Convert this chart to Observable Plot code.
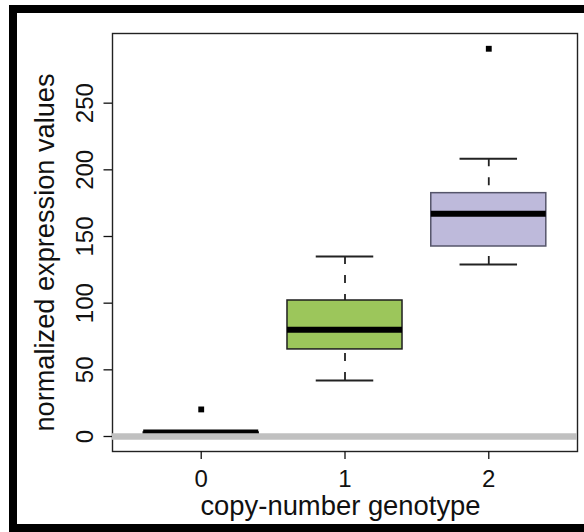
<!DOCTYPE html>
<html>
<head>
<meta charset="utf-8">
<script src="https://cdn.jsdelivr.net/npm/d3@7"></script>
<script src="https://cdn.jsdelivr.net/npm/@observablehq/plot@0.6"></script>
<style>
  body { margin: 0; background: #fff; }
  #wrap { position: relative; width: 584px; height: 532px; overflow: hidden; background: #fff; }
  #border { position: absolute; left: 9px; top: 5px; width: 600px; height: 527px; box-sizing: border-box; border: 8px solid #000; pointer-events: none; }
</style>
</head>
<body>
<div id="wrap"><div id="chart"></div><div id="border"></div></div>
<script>
// ---- data ----
const genotypes = [0, 1, 2];
const lowerWhisker = [0, 42, 129];
const q1 = [0, 65.3, 142.5];
const medians = [3, 80, 167];
const q3 = [3, 102, 182.5];
const upperWhisker = [4, 135, 208.3];
const outlierGenotype = [0, 2];
const outlierValue = [20.3, 290.8];
const yTicks = [0, 50, 100, 150, 200, 250];
const xTicks = [0, 1, 2];
const yLabel = "normalized expression values";
const xLabel = "copy-number genotype";
// palette (one per genotype)
const boxFill = ["#ffffff", "#9cc65b", "#bebadb"];
const boxStroke = ["#222222", "#1e1e1e", "#55556a"];

const boxes = genotypes.map((g, i) => ({
  g, lo: lowerWhisker[i], q1: q1[i], med: medians[i], q3: q3[i], hi: upperWhisker[i],
  fill: boxFill[i], stroke: boxStroke[i]
}));
const outliers = outlierGenotype.map((g, i) => ({g, v: outlierValue[i]}));

const chart = Plot.plot({
  width: 584,
  height: 532,
  marginLeft: 112,
  marginRight: 7,
  marginTop: 33,
  marginBottom: 81,
  style: {fontFamily: "'Liberation Sans', Arial, Helvetica, sans-serif", color: "#111", background: "#fff"},
  x: {domain: [-0.617, 2.617]},
  y: {domain: [-11.25, 302.25]},
  color: {type: "identity"},
  marks: [
    Plot.frame({stroke: "#222", strokeWidth: 1.4}),
    Plot.ruleX(boxes, {x: "g", y1: "hi", y2: "q3", stroke: "#222", strokeWidth: 1.8, strokeDasharray: "8,11"}),
    Plot.ruleX(boxes, {x: "g", y1: "lo", y2: "q1", stroke: "#222", strokeWidth: 1.8, strokeDasharray: "8,11"}),
    Plot.ruleY(boxes, {y: "hi", x1: d => d.g - 0.2, x2: d => d.g + 0.2, stroke: "#222", strokeWidth: 1.8}),
    Plot.ruleY(boxes, {y: "lo", x1: d => d.g - 0.2, x2: d => d.g + 0.2, stroke: "#222", strokeWidth: 1.8}),
    Plot.rect(boxes, {x1: d => d.g - 0.4, x2: d => d.g + 0.4, y1: "q1", y2: "q3", fill: "fill", stroke: "stroke", strokeWidth: 1.5}),
    Plot.ruleY(boxes, {y: "med", x1: d => d.g - 0.4, x2: d => d.g + 0.4, stroke: "#000", strokeWidth: 6}),
    Plot.dot(outliers, {x: "g", y: "v", symbol: "square", r: 3.3, fill: "#000", stroke: null}),
    Plot.ruleY([0], {stroke: "#c0c0c0", strokeWidth: 6.5}),
    Plot.axisY({ticks: yTicks, tickFormat: "d", tickSize: 8.5, tickPadding: 11.5, tickRotate: -90, fontSize: 24, strokeWidth: 1.3, label: null}),
    Plot.axisX({ticks: xTicks, tickFormat: "d", tickSize: 8, tickPadding: 10, fontSize: 24, strokeWidth: 1.3, label: null}),
    Plot.text([yLabel], {text: d => d, frameAnchor: "left", rotate: -90, textAnchor: "middle", lineAnchor: "bottom", dx: -59, dy: 10, fontSize: 27.2, fill: "#111"}),
    Plot.text([xLabel], {text: d => d, frameAnchor: "bottom", textAnchor: "middle", lineAnchor: "bottom", dx: -4.5, dy: 63, fontSize: 27.4, fill: "#111"})
  ]
});
document.getElementById("chart").appendChild(chart);
</script>
</body>
</html>
